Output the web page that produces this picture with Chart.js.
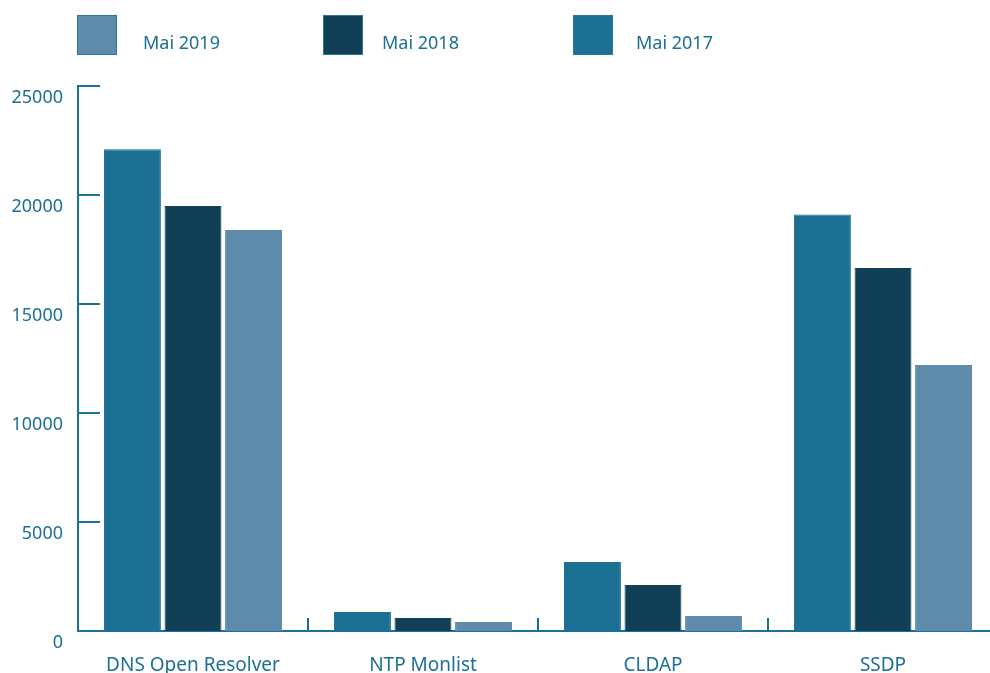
<!DOCTYPE html>
<html>
<head>
<meta charset="utf-8">
<script src="https://cdn.jsdelivr.net/npm/chart.js@4"></script>
<style>
  html, body { margin: 0; padding: 0; overflow: hidden; background: #fff; }
  #wrap { position: relative; width: 1000px; height: 673px; }
  #legend {
    position: absolute; left: 77px; top: 15px; display: flex;
    font-family: "Noto Sans", sans-serif; font-size: 18px; color: #1c6f95;
  }
  .item { display: flex; }
  .box { width: 40px; height: 40px; box-sizing: border-box; border: 1px solid #2a7aa0; }
  .label { padding-top: 15px; }
</style>
</head>
<body>
<div id="wrap">
  <canvas id="chart" width="1000" height="673"></canvas>
  <div id="legend"></div>
</div>
<script>
"use strict";

// Daten
const categories = ["DNS Open Resolver", "NTP Monlist", "CLDAP", "SSDP"];
const seriesNames = ["Mai 2017", "Mai 2018", "Mai 2019"];
const mai2017 = [22100, 870, 3170, 19100];
const mai2018 = [19500, 600, 2110, 16650];
const mai2019 = [18400, 410, 690, 12200];
const yTicks = [0, 5000, 10000, 15000, 20000, 25000];

const colors = ["#1b6f93", "#113f55", "#5f8bab"];
const axisColor = "#1c6f95";

/* kleine Striche innen an den Achsen */
const innerTicks = {
  id: "innerTicks",
  afterDraw(chart) {
    const ctx = chart.ctx;
    const area = chart.chartArea;
    const x = chart.scales.x;
    const y = chart.scales.y;
    ctx.save();
    ctx.strokeStyle = axisColor;
    ctx.lineWidth = 2;
    ctx.beginPath();
    y.ticks.forEach((t) => {
      if (t.value === 0) return;
      const py = Math.round(y.getPixelForValue(t.value));
      ctx.moveTo(area.left, py);
      ctx.lineTo(area.left + 22, py);
    });
    for (let i = 1; i < categories.length; i++) {
      const px = Math.round((x.getPixelForValue(i - 1) + x.getPixelForValue(i)) / 2);
      ctx.moveTo(px, area.bottom);
      ctx.lineTo(px, area.bottom - 13);
    }
    ctx.stroke();
    ctx.restore();
  },
};

const seriesData = [mai2017, mai2018, mai2019];

const config = {
  type: "bar",
  data: {
    labels: categories,
    datasets: seriesNames.map((name, i) => ({
      label: name,
      data: seriesData[i],
      backgroundColor: colors[i],
      borderColor: colors[i],
      borderWidth: 1,
      categoryPercentage: 0.79,
      barPercentage: 0.94,
    })),
  },
  options: {
    responsive: false,
    animation: false,
    layout: { padding: { top: 86, right: 2, left: 0, bottom: 0 } },
    plugins: { legend: { display: false }, tooltip: { enabled: false } },
    scales: {
      x: {
        grid: { display: false },
        border: { color: axisColor, width: 2 },
        ticks: {
          color: axisColor,
          padding: 15,
          font: { family: "Noto Sans", size: 19 },
        },
        afterFit: (scale) => { scale.height = 42; },
      },
      y: {
        min: 0,
        max: 25000,
        grid: { display: false },
        border: { color: axisColor, width: 2 },
        afterBuildTicks: (scale) => {
          scale.ticks = yTicks.map((v) => ({ value: v }));
        },
        ticks: {
          color: axisColor,
          padding: 7,
          labelOffset: 12,
          font: { family: "Noto Sans", size: 18 },
          callback: (v) => String(v),
        },
        afterFit: (scale) => { scale.width = 78; },
      },
    },
  },
  plugins: [innerTicks],
};

new Chart(document.getElementById("chart"), config);

// Legende (umgekehrte Reihenfolge wie im Original)
const legendWidths = [246, 250, 160];
const legendGaps = [26, 19, 23];
const legend = document.getElementById("legend");
for (let i = seriesNames.length - 1; i >= 0; i--) {
  const k = seriesNames.length - 1 - i;
  const item = document.createElement("div");
  item.className = "item";
  item.style.width = legendWidths[k] + "px";
  item.innerHTML =
    '<div class="box" style="background:' + colors[i] + '"></div>' +
    '<div class="label" style="margin-left:' + legendGaps[k] + 'px">' + seriesNames[i] + "</div>";
  legend.appendChild(item);
}
</script>
</body>
</html>
